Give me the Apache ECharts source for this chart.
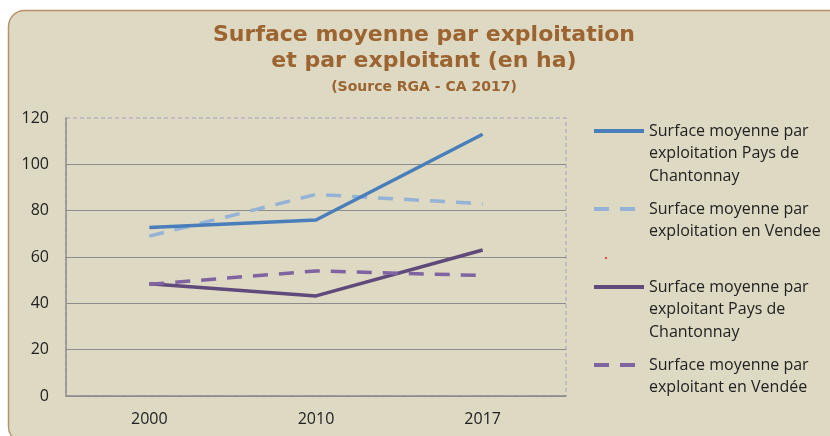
<!DOCTYPE html>
<html>
<head>
<meta charset="utf-8">
<script src="https://cdn.jsdelivr.net/npm/echarts@6/dist/echarts.min.js"></script>
<style>
html, body { margin: 0; padding: 0; background: #ffffff; }
#chart { width: 830px; height: 436px; }
</style>
</head>
<body>
<div id="chart"></div>
<script>
const categories = ['2000', '2010', '2017'];
const exploitationPays = [72.7, 76, 113];
const exploitationVendee = [69, 87, 83];
const exploitantPays = [48.5, 43.2, 63];
const exploitantVendee = [48.2, 54, 52];
const seriesNames = [
  'Surface moyenne par exploitation Pays de Chantonnay',
  'Surface moyenne par exploitation en Vendee',
  'Surface moyenne par exploitant Pays de Chantonnay',
  'Surface moyenne par exploitant en Vendée'
];
const legendLines = [
  ['Surface moyenne par', 'exploitation Pays de', 'Chantonnay'],
  ['Surface moyenne par', 'exploitation en Vendee'],
  ['Surface moyenne par', 'exploitant Pays de', 'Chantonnay'],
  ['Surface moyenne par', 'exploitant en Vendée']
];
const titleLines = ['Surface moyenne par exploitation', 'et par exploitant (en ha)'];
const subtitle = '(Source RGA - CA 2017)';

const chart = echarts.init(document.getElementById('chart'), null, { renderer: 'canvas' });

const LH = 22.5;
const legendIconCenters = [131, 209, 287, 365];
const labelFont = 'Open Sans';

const legends = seriesNames.map((name, i) => {
  const lines = legendLines[i];
  const blanks = lines.length - 1;
  const text = '\n'.repeat(blanks) + lines.join('\n');
  const total = (blanks + lines.length) * LH;
  return {
    data: [name],
    orient: 'vertical',
    left: 592,
    top: legendIconCenters[i] - total / 2,
    padding: 0,
    itemWidth: 50,
    itemHeight: 14,
    selectedMode: false,
    itemStyle: { opacity: 0 },
    lineStyle: { width: 4 },
    formatter: () => text,
    textStyle: { fontFamily: labelFont, fontSize: 16, color: '#222222', lineHeight: LH }
  };
});

const lineColors = ['#4a7ebb', '#95b3d7', '#5f4a7b', '#8064a2'];
const lineTypes = ['solid', [15, 11], 'solid', [15, 11]];
const dataSets = [exploitationPays, exploitationVendee, exploitantPays, exploitantVendee];

const option = {
  animation: false,
  backgroundColor: 'transparent',
  graphic: [
    {
      type: 'rect', z: -10, silent: true,
      shape: { x: 8.5, y: 10.5, width: 840, height: 432, r: 16 },
      style: { fill: '#ddd9c3', stroke: '#b8916a', lineWidth: 1.5 }
    },
    {
      type: 'circle', z: 10, silent: true,
      shape: { cx: 606, cy: 258, r: 1.1 },
      style: { fill: '#ff2020' }
    }
  ],
  title: [
    {
      text: titleLines.join('\n'),
      left: 424,
      textAlign: 'center',
      top: 22,
      padding: 0,
      textStyle: { fontFamily: 'DejaVu Sans', fontWeight: 'bold', fontSize: 22, lineHeight: 26, color: '#9c6430' }
    },
    {
      text: subtitle,
      left: 424,
      textAlign: 'center',
      top: 79,
      padding: 0,
      textStyle: { fontFamily: 'DejaVu Sans', fontWeight: 'bold', fontSize: 14, lineHeight: 16, color: '#9c6430' }
    }
  ],
  legend: legends,
  grid: {
    left: 66, right: 264, top: 118, bottom: 40,
    show: true, backgroundColor: 'transparent',
    borderColor: '#a99cc0', borderWidth: 1, borderType: [4, 3]
  },
  xAxis: {
    type: 'category',
    data: categories,
    boundaryGap: true,
    z: 5,
    axisLine: { show: true, lineStyle: { color: '#8c8c8c', width: 1.5 } },
    axisTick: { show: false },
    axisLabel: { fontFamily: labelFont, fontSize: 16, color: '#222222', margin: 15 },
    splitLine: { show: false }
  },
  yAxis: {
    type: 'value',
    min: 0, max: 120, interval: 20,
    z: 5,
    axisLine: { show: true, lineStyle: { color: '#8c8c8c', width: 1.5 } },
    axisTick: { show: false },
    axisLabel: { fontFamily: labelFont, fontSize: 16, color: '#222222', margin: 17 },
    splitLine: { show: true, showMaxLine: false, lineStyle: { color: '#8c8c8c', width: 1 } }
  },
  series: seriesNames.map((name, i) => ({
    name: name,
    type: 'line',
    data: dataSets[i],
    symbol: 'none',
    showSymbol: false,
    lineStyle: { color: lineColors[i], width: 3.5, type: lineTypes[i] },
    itemStyle: { color: lineColors[i] },
    z: 6 + (i === 0 ? 1 : 0)
  }))
};

chart.setOption(option);
</script>
</body>
</html>
